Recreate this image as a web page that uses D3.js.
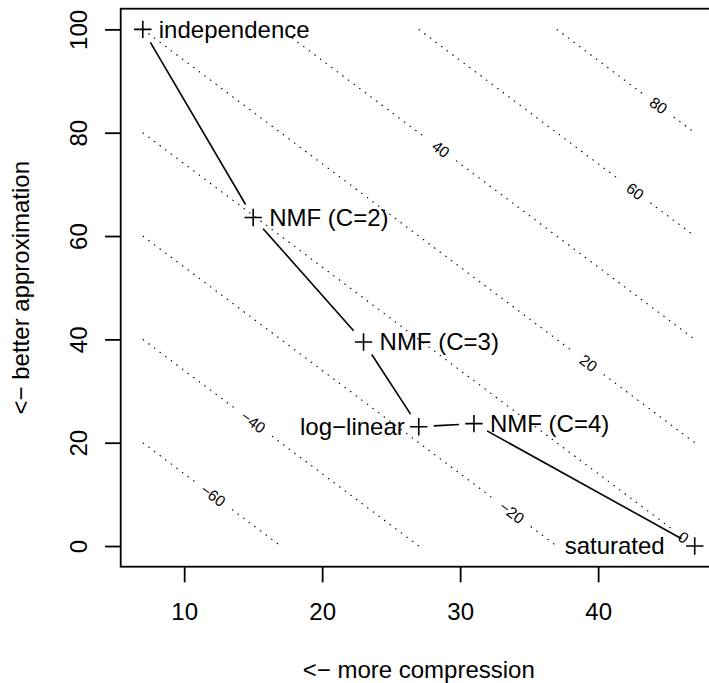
<!DOCTYPE html>
<html>
<head>
<meta charset="utf-8">
<script src="https://cdn.jsdelivr.net/npm/d3@7"></script>
<style>
  body { margin: 0; background: #fff; }
  svg { display: block; font-family: "Liberation Sans", Arial, Helvetica, sans-serif; }
</style>
</head>
<body>
<svg id="chart"></svg>
<script>
// models: compression (x) vs approximation (y)
var modelNames = ["independence", "NMF (C=2)", "NMF (C=3)", "log\u2212linear", "NMF (C=4)", "saturated"];
var compression = [7, 15, 23, 27, 31, 47];
var approximation = [100, 63.6, 39.5, 23.1, 23.7, 0];

var xTicks = [10, 20, 30, 40];
var yTicks = [0, 20, 40, 60, 80, 100];

// contour levels of  y - 2 * (47 - x)  and where along x each label sits
var contourLevels = [-60, -40, -20, 0, 20, 40, 60, 80];
var contourLabelX = [12.1, 15.0, 33.75, 46.18, 39.3, 28.6, 42.68, 44.37];

var width = 709, height = 683;
var plotLeft = 120.7, plotTop = 8.7, plotW = 596.1, plotH = 558;
var fontSize = 24;

var svg = d3.select("#chart").attr("width", width).attr("height", height);

// R style 4% padding on the data ranges
function padded(ext) {
  var d = (ext[1] - ext[0]) * 0.04;
  return [ext[0] - d, ext[1] + d];
}
var xExt = d3.extent(compression), yExt = d3.extent(approximation);

var xScale = d3.scaleLinear().domain(padded(xExt)).range([plotLeft, plotLeft + plotW]);
var yScale = d3.scaleLinear().domain(padded(yExt)).range([plotTop + plotH, plotTop]);

// contour function
var satX = xExt[1];
function zLine(level, x) { return level + 2 * (satX - x); }

// contour lines (dotted), broken round their labels
var contourG = svg.append("g");
var angle = Math.atan2(yScale(0) - yScale(2), xScale(1) - xScale(0)) * 180 / Math.PI;

contourLevels.forEach(function(level, i) {
  var xa = Math.max(xExt[0], (level + 2 * satX - yExt[1]) / 2);
  var xb = Math.min(xExt[1], (level + 2 * satX - yExt[0]) / 2);
  var A = [xScale(xa), yScale(zLine(level, xa))];
  var B = [xScale(xb), yScale(zLine(level, xb))];
  var xl = contourLabelX[i];
  var P = [xScale(xl), yScale(zLine(level, xl))];
  var len = Math.hypot(B[0] - A[0], B[1] - A[1]);
  var u = [(B[0] - A[0]) / len, (B[1] - A[1]) / len];
  var label = level < 0 ? "\u2212" + Math.abs(level) : String(level);
  var g = label.length * 4.5 + 10;
  var tP = Math.hypot(P[0] - A[0], P[1] - A[1]);
  var segs = [];
  if (tP - g > 0) segs.push([A, [P[0] - u[0] * g, P[1] - u[1] * g]]);
  if (tP + g < len) segs.push([[P[0] + u[0] * g, P[1] + u[1] * g], B]);
  segs.forEach(function(s) {
    contourG.append("line")
      .attr("x1", s[0][0]).attr("y1", s[0][1])
      .attr("x2", s[1][0]).attr("y2", s[1][1])
      .attr("stroke", "#000")
      .attr("stroke-width", 1.1)
      .attr("stroke-dasharray", "1.5,5.5");
  });
  contourG.append("text")
    .attr("transform", "translate(" + P[0] + "," + P[1] + ") rotate(" + angle + ")")
    .attr("text-anchor", "middle")
    .attr("dy", "0.35em")
    .style("font-size", "15.5px")
    .text(label);
});

// connecting line, type "b" (gaps round the points)
var pts = compression.map(function(c, i) { return [xScale(c), yScale(approximation[i])]; });
var gap = 15;
d3.pairs(pts).forEach(function(pq) {
  var p = pq[0], q = pq[1];
  var d = Math.hypot(q[0] - p[0], q[1] - p[1]);
  var u = [(q[0] - p[0]) / d, (q[1] - p[1]) / d];
  svg.append("line")
    .attr("x1", p[0] + u[0] * gap).attr("y1", p[1] + u[1] * gap)
    .attr("x2", q[0] - u[0] * gap).attr("y2", q[1] - u[1] * gap)
    .attr("stroke", "#000")
    .attr("stroke-width", 1.6);
});

// plus markers
svg.append("g").selectAll("path")
  .data(pts)
  .enter()
  .append("path")
    .attr("transform", function(p) { return "translate(" + p[0] + "," + p[1] + ")"; })
    .attr("d", "M-8.7,0H8.7M0,-8.7V8.7")
    .attr("stroke", "#000")
    .attr("stroke-width", 1.6)
    .attr("fill", "none");

// point labels
var placement = { "log\u2212linear": ["end", 14], "saturated": ["end", 30] };
svg.append("g").selectAll("text")
  .data(modelNames)
  .enter()
  .append("text")
    .attr("x", function(d, i) {
      var pl = placement[d] || ["start", 16];
      return pl[0] == "end" ? pts[i][0] - pl[1] : pts[i][0] + pl[1];
    })
    .attr("y", function(d, i) { return pts[i][1]; })
    .attr("dy", "0.35em")
    .attr("text-anchor", function(d) { return (placement[d] || ["start"])[0]; })
    .style("font-size", fontSize + "px")
    .text(function(d) { return d; });

// box
svg.append("rect")
  .attr("x", plotLeft).attr("y", plotTop)
  .attr("width", plotW).attr("height", plotH)
  .attr("fill", "none")
  .attr("stroke", "#000")
  .attr("stroke-width", 1.8);

// axes
var xAxis = d3.axisBottom(xScale).tickValues(xTicks).tickSize(15.6).tickPadding(20.7).tickSizeOuter(0);
var yAxis = d3.axisLeft(yScale).tickValues(yTicks).tickSize(15.6).tickSizeOuter(0);

var gx = svg.append("g")
  .attr("transform", "translate(0," + (plotTop + plotH) + ")")
  .call(xAxis);
gx.select(".domain").remove();
gx.selectAll("line").attr("stroke-width", 1.8);
gx.selectAll("text").style("font-size", fontSize + "px");

var gy = svg.append("g")
  .attr("transform", "translate(" + plotLeft + ",0)")
  .call(yAxis);
gy.select(".domain").remove();
gy.selectAll("line").attr("stroke-width", 1.8);
gy.selectAll("text")
  .style("font-size", fontSize + "px")
  .attr("x", 0).attr("y", -33.4).attr("dy", 0)
  .attr("transform", "rotate(-90)")
  .attr("text-anchor", "middle");

svg.selectAll("g").attr("font-family", null).attr("font-size", null);

// axis titles
svg.append("text")
  .attr("x", plotLeft + plotW / 2)
  .attr("y", 678)
  .attr("text-anchor", "middle")
  .style("font-size", fontSize + "px")
  .text("<\u2212 more compression");

svg.append("text")
  .attr("transform", "rotate(-90)")
  .attr("x", -(plotTop + plotH / 2))
  .attr("y", 29)
  .attr("text-anchor", "middle")
  .style("font-size", fontSize + "px")
  .text("<\u2212 better approximation");
</script>
</body>
</html>
